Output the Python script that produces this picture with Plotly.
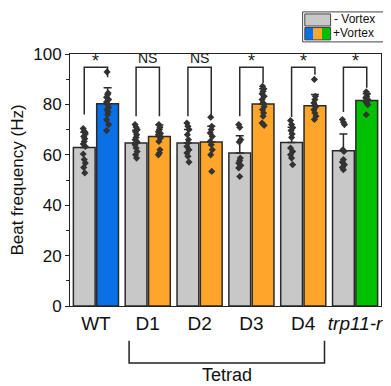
import plotly.graph_objects as go

# ---------------- data ----------------
groups = ["WT", "D1", "D2", "D3", "D4", "trp11-r"]
tick_text = ["WT", "D1", "D2", "D3", "D4", "<i>trp11-r</i>"]

mean_minus = [62.9, 64.7, 64.7, 60.7, 64.9, 61.6]
mean_plus = [80.3, 67.3, 65.1, 80.2, 79.5, 81.5]
err_minus = [6.0, 5.0, 5.3, 6.9, 6.0, 6.7]
err_plus = [6.3, 4.5, 6.2, 6.0, 4.4, 2.7]

pts_minus = [
    [70.4, 69.3, 68.3, 67.3, 66.4, 65.3, 64.3, 63.3, 60.3, 58.1, 56.7, 55.0, 52.8],
    [72.0, 70.9, 70.0, 69.1, 68.0, 66.9, 66.0, 65.1, 64.0, 62.7, 61.3, 60.0, 58.7],
    [72.6, 71.3, 70.0, 68.0, 66.0, 64.7, 63.3, 62.0, 60.7, 59.4, 57.1],
    [72.0, 70.9, 66.0, 65.1, 58.7, 57.7, 56.7, 55.8, 54.8, 51.4],
    [73.6, 72.0, 70.7, 69.6, 68.3, 66.9, 62.7, 61.3, 60.0, 58.7, 56.1],
    [74.0, 72.9, 72.0, 62.0, 61.3, 58.1, 57.1, 56.1, 55.0, 54.1],
]
pts_plus = [
    [92.9, 84.5, 83.9, 82.8, 81.9, 81.0, 79.9, 78.8, 77.9, 77.0, 75.9, 73.9, 72.0, 69.6],
    [72.0, 70.9, 70.0, 69.1, 68.5, 68.0, 67.5, 66.7, 65.3, 62.0, 60.7, 60.0],
    [74.9, 71.3, 70.0, 68.7, 67.3, 65.3, 64.0, 62.0, 60.0, 53.4],
    [87.2, 86.2, 85.2, 84.2, 83.2, 81.9, 80.6, 79.2, 77.9, 76.6, 75.3, 72.6, 71.7],
    [89.9, 83.2, 81.9, 80.6, 79.2, 77.9, 76.6, 75.3, 74.0],
    [85.0, 84.2, 83.2, 82.6, 81.9, 81.2, 80.6, 79.9, 75.9],
]
sig_labels = ["*", "NS", "NS", "*", "*", "*"]
bracket_top = [94.7, 94.7, 94.7, 94.7, 94.7, 94.7]
bracket_left_end = [76.0, 75.3, 75.3, 75.3, 75.0, 77.0]
bracket_right_end = [90.8, 75.3, 75.3, 88.5, 91.8, 86.6]

grey = "#c8c8c8"
plus_colors = ["#0a70e6", "#ffa52a", "#ffa52a", "#ffa52a", "#ffa52a", "#00c000"]
edge = "#2a2a2a"
dot_color = "#333333"

off = 0.225
bw = 0.42
x_minus = [i - off for i in range(len(groups))]
x_plus = [i + off for i in range(len(groups))]

jit = [-0.02, 0.0, 0.02, -0.01, 0.01, 0.0, -0.02, 0.02]

fig = go.Figure()
fig.add_trace(go.Bar(
    x=x_minus, y=mean_minus, width=bw,
    marker=dict(color=grey, line=dict(color=edge, width=1.5)),
    error_y=dict(type="data", symmetric=False, array=err_minus,
                 arrayminus=[0] * len(err_minus), color=edge, thickness=1.5, width=4),
    showlegend=False,
))
fig.add_trace(go.Bar(
    x=x_plus, y=mean_plus, width=bw,
    marker=dict(color=plus_colors, line=dict(color=edge, width=1.5)),
    error_y=dict(type="data", symmetric=False, array=err_plus,
                 arrayminus=[0] * len(err_plus), color=edge, thickness=1.5, width=4),
    showlegend=False,
))

dx, dy = [], []
for i in range(len(groups)):
    for k, v in enumerate(pts_minus[i]):
        dx.append(x_minus[i] + jit[k % len(jit)])
        dy.append(v)
    for k, v in enumerate(pts_plus[i]):
        dx.append(x_plus[i] + jit[(k + 3) % len(jit)])
        dy.append(v)
fig.add_trace(go.Scatter(
    x=dx, y=dy, mode="markers",
    marker=dict(symbol="diamond", size=5.5, color=dot_color),
    showlegend=False, hoverinfo="skip",
))

shapes = []
annotations = []
for i in range(len(groups)):
    xl, xr, t = x_minus[i], x_plus[i], bracket_top[i]
    shapes.append(dict(type="path", xref="x", yref="y",
                       path=f"M {xl},{bracket_left_end[i]} L {xl},{t} L {xr},{t} L {xr},{bracket_right_end[i]}",
                       line=dict(color=edge, width=1.5)))
    star = sig_labels[i] == "*"
    annotations.append(dict(x=i, y=t, xref="x", yref="y", text=sig_labels[i],
                            showarrow=False, yanchor="bottom", yshift=-6 if star else -1,
                            font=dict(size=18 if star else 14,
                                      color="#222", family="Liberation Sans, Arial")))

# Tetrad bracket
shapes.append(dict(type="path", xref="x", yref="paper",
                   path="M 0.64,-0.138 L 0.64,-0.226 L 4.41,-0.226 L 4.41,-0.138",
                   line=dict(color="#222", width=1.5)))
annotations.append(dict(x=2.525, y=-0.272, xref="x", yref="paper", text="Tetrad",
                        showarrow=False, yanchor="middle",
                        font=dict(size=18, color="#111", family="Liberation Sans, Arial")))

# legend box
shapes.append(dict(type="rect", xref="paper", yref="paper", x0=0.748, x1=1.013, y0=1.048, y1=1.167,
                   line=dict(color="#444", width=1), fillcolor="white"))
shapes.append(dict(type="rect", xref="paper", yref="paper", x0=0.755, x1=0.838, y0=1.111, y1=1.159,
                   line=dict(color="#444", width=1), fillcolor=grey))
sw = [0.755, 0.783, 0.810, 0.838]
for j, c in enumerate(["#0a70e6", "#ffa52a", "#00c000"]):
    shapes.append(dict(type="rect", xref="paper", yref="paper", x0=sw[j], x1=sw[j + 1], y0=1.056, y1=1.105,
                       line=dict(width=0), fillcolor=c))
shapes.append(dict(type="rect", xref="paper", yref="paper", x0=0.755, x1=0.838, y0=1.056, y1=1.105,
                   line=dict(color="#444", width=1)))
annotations.append(dict(x=0.842, y=1.137, xref="paper", yref="paper", text="- Vortex", showarrow=False,
                        xanchor="left", yanchor="middle",
                        font=dict(size=12, color="#111", family="Liberation Sans, Arial")))
annotations.append(dict(x=0.840, y=1.082, xref="paper", yref="paper", text="+Vortex", showarrow=False,
                        xanchor="left", yanchor="middle",
                        font=dict(size=12, color="#111", family="Liberation Sans, Arial")))

# page body has an 8px margin; figure is sized/offset to compensate
fig.update_layout(
    width=383, height=378,
    margin=dict(l=61, r=8, t=46, b=80),
    plot_bgcolor="white", paper_bgcolor="white",
    barmode="overlay",
    font=dict(family="Liberation Sans, Arial", size=16, color="#111"),
    shapes=shapes, annotations=annotations,
    xaxis=dict(range=[-0.5, 5.5], tickvals=list(range(len(groups))), ticktext=tick_text,
               showline=True, mirror=True, linecolor="#222", linewidth=1,
               ticks="", showgrid=False, zeroline=False, tickfont=dict(size=19)),
    yaxis=dict(range=[0, 100], tickvals=[0, 20, 40, 60, 80, 100],
               showline=True, mirror=True, linecolor="#222", linewidth=1,
               ticks="outside", ticklen=4, tickcolor="#222", showgrid=False, zeroline=False,
               minor=dict(ticks="outside", ticklen=3, dtick=10, tickcolor="#222"),
               title=dict(text="Beat frequency (Hz)", font=dict(size=17), standoff=5),
               tickfont=dict(size=17)),
)

fig.write_html("out.html")
